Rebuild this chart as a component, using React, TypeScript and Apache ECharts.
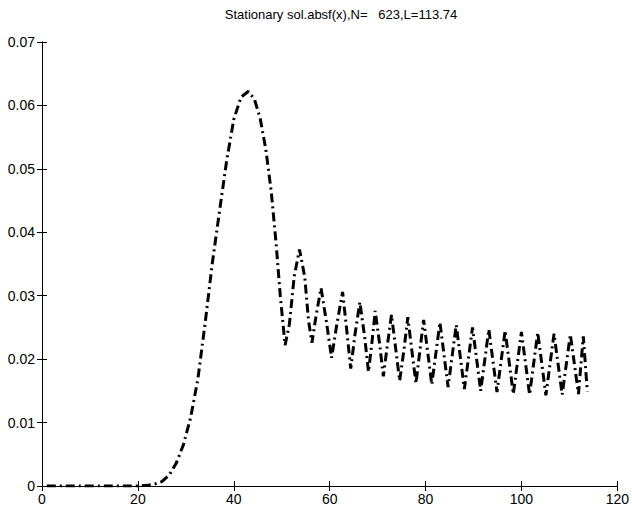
import React, { useEffect, useRef } from "react";
import * as echarts from "echarts";

const titleText = "Stationary sol.absf(x),N=   623,L=113.74";

const xs = [
  1, 5, 10, 15, 20, 22, 23.5, 25, 26.5, 28, 29.5, 31, 32.5, 34, 35.5, 37, 38.5, 40, 41.5, 43,
  44.3, 45.5, 46.7, 47.8, 48.8, 49.7, 50.7, 51.6, 52.6, 53.7, 54.8, 55.6, 56.3, 57.2, 58.2,
  59.3, 60.4, 61.5, 62.7, 63.5, 64.4, 65.3, 66.3, 67.3, 68.1, 68.8, 69.5, 70.4, 71.2, 72.0,
  72.9, 73.8, 74.6, 75.5, 76.3, 77.2, 78.0, 79.6, 81.3, 83.0, 84.7, 86.4, 88.1, 89.8, 91.5,
  93.2, 94.9, 96.6, 98.3, 100.0, 101.7, 103.4, 105.1, 106.8, 108.5, 110.2, 111.9, 112.9, 113.74,
];

// |f(x)| values at those positions
const ys = [
  0, 0, 0, 0, 0, 0.0001, 0.0003, 0.0007, 0.0017, 0.0036, 0.0065, 0.0108, 0.0168, 0.0255, 0.035,
  0.0432, 0.0512, 0.0578, 0.0613, 0.0622, 0.061, 0.058, 0.053, 0.0465, 0.0385, 0.03, 0.0222,
  0.0255, 0.033, 0.0373, 0.033, 0.026, 0.0226, 0.027, 0.0312, 0.026, 0.0202, 0.0255, 0.0306,
  0.025, 0.0185, 0.024, 0.029, 0.0235, 0.018, 0.0225, 0.0276, 0.0225, 0.0173, 0.022, 0.027,
  0.0215, 0.0166, 0.0215, 0.0266, 0.021, 0.0162, 0.0262, 0.016, 0.0258, 0.0156, 0.0254, 0.0153,
  0.025, 0.015, 0.0247, 0.0148, 0.0245, 0.0145, 0.0243, 0.0144, 0.0242, 0.0143, 0.024, 0.0144,
  0.0239, 0.0145, 0.0236, 0.0149,
];

const xTicks = [0, 20, 40, 60, 80, 100, 120];
const yTicks = [0, 0.01, 0.02, 0.03, 0.04, 0.05, 0.06, 0.07];

export default function App() {
  const ref = useRef<HTMLDivElement>(null);
  useEffect(() => {
    if (!ref.current) return;
    const chart = echarts.init(ref.current, null, { renderer: "svg" });
    const font = "Liberation Sans";
    const axisLine = { show: true, lineStyle: { color: "#000", width: 1 } };
    const tick = { show: true, inside: true, length: 5, lineStyle: { color: "#000" } };
    const xMax = xTicks[xTicks.length - 1];
    const yMax = yTicks[yTicks.length - 1];
    chart.setOption({
      animation: false,
      backgroundColor: "#fff",
      title: {
        text: titleText,
        left: 336,
        textAlign: "center",
        top: 3,
        textStyle: { fontFamily: font, fontSize: 13, fontWeight: "normal", color: "#000" },
      },
      grid: { left: 42, right: 2, top: 42, bottom: 24 },
      xAxis: [
        {
          type: "value",
          min: 0,
          max: xMax,
          interval: 20,
          position: "bottom",
          axisLine,
          axisTick: tick,
          splitLine: { show: false },
          axisLabel: { color: "#000", fontFamily: font, fontSize: 14, margin: 6 },
        },
        {
          type: "value",
          min: 0,
          max: xMax,
          interval: 20,
          position: "top",
          axisLine,
          axisTick: tick,
          splitLine: { show: false },
          axisLabel: { show: false },
        },
      ],
      yAxis: [
        {
          type: "value",
          min: 0,
          max: yMax,
          interval: 0.01,
          position: "left",
          axisLine,
          axisTick: tick,
          splitLine: { show: false },
          axisLabel: {
            color: "#000",
            fontFamily: font,
            fontSize: 14,
            margin: 7,
            formatter: (v: number) => (v === 0 ? "0" : v.toFixed(2)),
          },
        },
        {
          type: "value",
          min: 0,
          max: yMax,
          interval: 0.01,
          position: "right",
          axisLine,
          axisTick: tick,
          splitLine: { show: false },
          axisLabel: { show: false },
        },
      ],
      series: [
        {
          type: "line",
          xAxisIndex: 0,
          yAxisIndex: 0,
          data: xs.map((x, i) => [x, ys[i]]),
          showSymbol: false,
          symbol: "none",
          lineStyle: { color: "#000", width: 3, type: [9, 4, 2, 4], cap: "butt" },
        },
      ],
    });
    return () => chart.dispose();
  }, []);
  return (
    <div
      ref={ref}
      style={{ position: "fixed", left: 0, top: 0, width: 632, height: 510, background: "#fff" }}
    />
  );
}
